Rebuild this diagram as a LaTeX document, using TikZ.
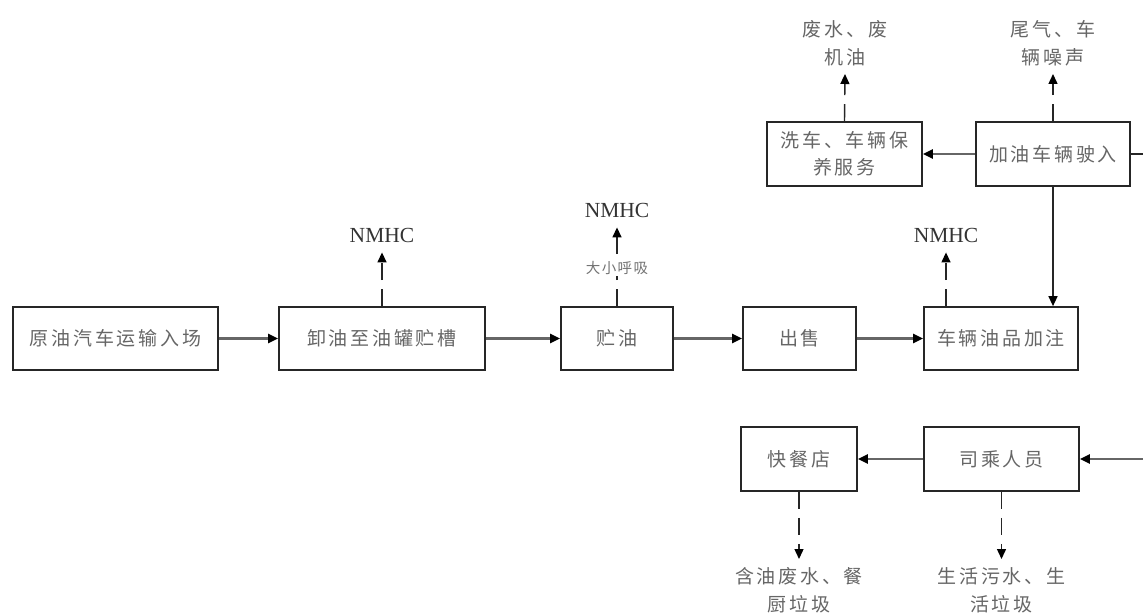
\documentclass[tikz,border=0pt]{standalone}
\usepackage{fontspec}
\setmainfont{Liberation Serif}
\newfontfamily\cjk[LetterSpace=14.5]{Noto Sans CJK SC}
\newfontfamily\cjksmall[LetterSpace=10]{Noto Sans CJK SC}
\usetikzlibrary{arrows.meta}
\begin{document}
\begin{tikzpicture}[x=1pt,y=-1pt,
  box/.style={draw=black!85, line width=1.7pt, minimum height=63pt, inner sep=0pt,
    font=\cjk\fontsize{19}{27}\selectfont, text=black!60, align=center},
  lbl/.style={font=\cjk\fontsize{19}{28}\selectfont, text=black!60, align=center, inner sep=3pt},
  nm/.style={font=\fontsize{21.5}{24}\selectfont, text=black!80, inner xsep=0pt, inner ysep=10pt},
  tip/.style={-{Triangle[length=10pt,width=9pt,color=black,fill=black]}},
  flow/.style={tip, line width=2.6pt, draw=black!60},
  thinflow/.style={tip, line width=1.4pt, draw=black!85},
  emis/.style={tip, line width=1.4pt, draw=black!85, dash pattern=on 17pt off 9pt},
]
\useasboundingbox (0,0) rectangle (1143,615);

% main row
\node[box, minimum width=205pt] (b1) at (115.5,338.5) {原油汽车运输入场};
\node[box, minimum width=206pt] (b2) at (382,338.5) {卸油至油罐贮槽};
\node[box, minimum width=112pt] (b3) at (617,338.5) {贮油};
\node[box, minimum width=113pt] (b4) at (799.5,338.5) {出售};
\node[box, minimum width=154pt] (b5) at (1001,338.5) {车辆油品加注};

% top row
\node[box, minimum width=155pt, minimum height=64pt] (b6) at (844.5,154) {洗车、车辆保\\养服务};
\node[box, minimum width=154pt, minimum height=64pt] (b7) at (1053,154) {加油车辆驶入};

% bottom row
\node[box, minimum width=116pt, minimum height=64pt] (b8) at (799,459) {快餐店};
\node[box, minimum width=155pt, minimum height=64pt] (b9) at (1001.5,459) {司乘人员};

% edge coordinates
\coordinate (e7) at (1143,154);
\coordinate (e9) at (1143,459);

% emission labels
\node[nm] (n2) at (382,235) {NMHC};
\node[nm] (n3) at (617,210) {NMHC};
\node[nm] (n5) at (946,235) {NMHC};
\node[lbl, anchor=south, inner ysep=8pt] (t6) at (845,74) {废水、废\\机油};
\node[lbl, anchor=south, inner ysep=8pt] (t7) at (1053,74) {尾气、车\\辆噪声};
\node[lbl, anchor=north, inner ysep=7pt] (t8) at (799,560) {含油废水、餐\\厨垃圾};
\node[lbl, anchor=north, inner ysep=7pt] (t9) at (1001.5,560) {生活污水、生\\活垃圾};

% main flow
\draw[flow] (b1) -- (b2);
\draw[flow] (b2) -- (b3);
\draw[flow] (b3) -- (b4);
\draw[flow] (b4) -- (b5);
\draw[flow] (b7) -- (b6);
\draw[thinflow] (b7.south) -- (b7.south |- b5.north);
\draw[line width=1.4pt, draw=black!85] (b7.east) -- (e7);
\draw[flow] (e9) -- (b9);
\draw[flow] (b9) -- (b8);

% emissions
\draw[emis] (b2.north) -- (n2.south);
\draw[emis] (b3.north) -- (n3.south);
\node[fill=white, inner sep=1pt, font=\cjksmall\fontsize{14.5}{15}\selectfont, text=black!55] (s3) at (617,268) {大小呼吸};
\draw[emis] (n5 |- b5.north) -- (n5.south);
\draw[emis] (b6.north) -- (t6.south);
\draw[emis] (b7.north) -- (t7.south);
\draw[emis] (b8.south) -- ([yshift=1pt]t8.north);
\draw[emis] (b9.south) -- ([yshift=1pt]t9.north);
\end{tikzpicture}
\end{document}
